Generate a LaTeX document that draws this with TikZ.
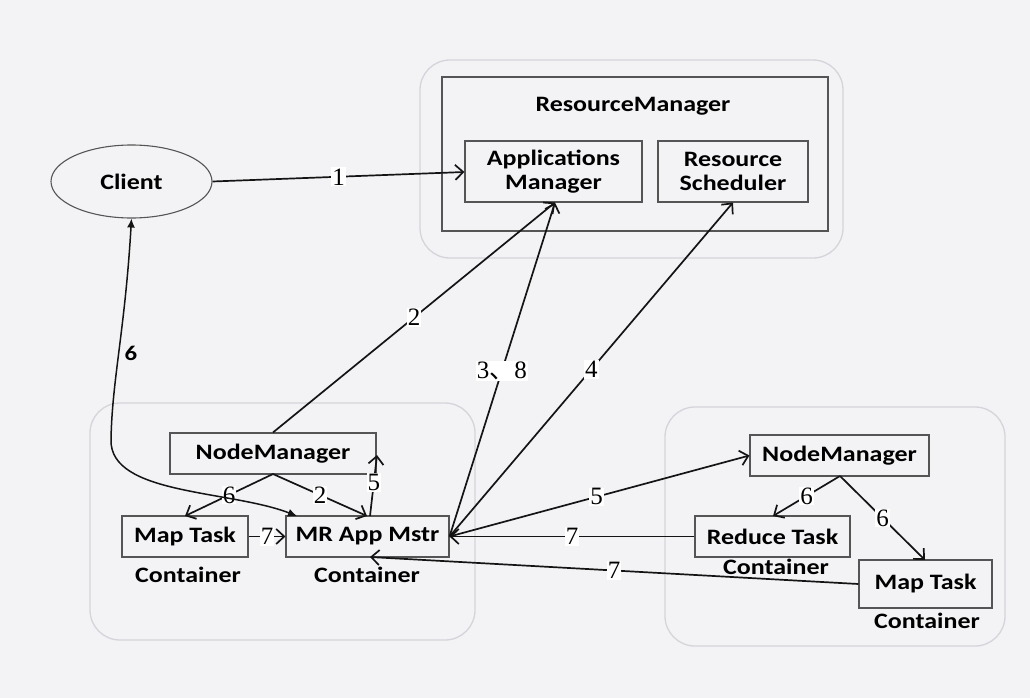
\documentclass[tikz,border=0pt]{standalone}
\usepackage{fontspec}
\usetikzlibrary{arrows.meta,shapes.geometric,calc}
\newfontfamily\bx{Carlito}[FakeStretch=1.18]
\newfontfamily\lbf{Liberation Serif}
\newfontfamily\cjk{Noto Sans CJK SC}
\definecolor{bg}{RGB}{243,243,246}
\definecolor{cont}{RGB}{212,212,218}
\definecolor{bxline}{RGB}{85,85,85}
\definecolor{ln}{RGB}{20,20,20}
\tikzset{
  box/.style={draw=bxline,line width=1.1pt,fill=bg,inner sep=0pt,font=\bx\bfseries\fontsize{22}{24}\selectfont,align=center},
  plain/.style={inner sep=0pt,font=\bx\bfseries\fontsize{22}{24}\selectfont,align=center},
  contbox/.style={draw=cont,line width=1.3pt,rounded corners=30pt},
  conn/.style={draw=ln,line width=1.7pt,-{Straight Barb[length=8pt,width=15pt,line width=1.7pt]}},
  lab/.style={fill=white,inner sep=1pt,font=\lbf\fontsize{25}{26}\selectfont},
}
\begin{document}
\begin{tikzpicture}[x=1pt,y=-1pt]
\fill[bg] (0,0) rectangle (1030,698);
\useasboundingbox (0,0) rectangle (1030,698);
% containers
\draw[contbox] (420,60) rectangle (843,258);
\draw[contbox] (90,403) rectangle (475,640);
\draw[contbox] (665,407) rectangle (1005,646);
% RM
\node[box,minimum width=386pt,minimum height=154pt] (RM) at (635,154) {};
\node[plain] (RMt) at (633,106) {ResourceManager};
\node[box,minimum width=177pt,minimum height=61pt] (AM) at (553.5,171.5) {Applications\\Manager};
\node[box,minimum width=150pt,minimum height=61pt] (RS) at (733,171.5) {Resource\\Scheduler};
% client
\node[ellipse,draw=bxline,line width=1.1pt,fill=bg,minimum width=161pt,minimum height=73pt,inner sep=0pt,font=\bx\bfseries\fontsize{22}{24}\selectfont] (CL) at (131.5,181.5) {Client};
% left node
\node[box,minimum width=206pt,minimum height=41pt] (NML) at (273,453.5) {NodeManager};
\node[box,minimum width=126pt,minimum height=41pt] (MTL) at (185,536.5) {Map Task};
\node[box,minimum width=163pt,minimum height=41pt] (MR) at (367.5,536.5) {MR App Mstr};
\node[plain] (cMTL) at (188,575) {Container};
\node[plain] (cMR) at (367,575) {Container};
% right node
\node[box,minimum width=179pt,minimum height=41pt] (NMR) at (839.5,455.5) {NodeManager};
\node[box,minimum width=155pt,minimum height=41pt] (RT) at (772.5,536.5) {Reduce Task};
\node[box,minimum width=133pt,minimum height=48pt] (MTR) at (925.5,584) {Map Task};
\node[plain] (cRT) at (776,567) {Container};
\node[plain] (cMTR) at (927,621) {Container};
% coordinates
\coordinate (AMb) at (555,202.5);
\coordinate (RSb) at (733,202.5);
\coordinate (NMLs) at (273,474);
\coordinate (NMLr) at (377,455);
\coordinate (MRn1) at (367,516);
\coordinate (MRn2) at (370,516);
\coordinate (MRs) at (370,557);
\coordinate (MRnw) at (297,516);
\coordinate (MTLn) at (185,516);
\coordinate (NMRs) at (840,476);
\coordinate (RTn) at (773,516);
\coordinate (MTRn) at (925,560);
% connectors
\draw[conn] (CL.east) -- node[lab,pos=0.5]{1} (AM.west |- 0,172);
\draw[conn] (NML.north) -- node[lab,pos=0.5]{2} (AMb);
\draw[conn] (MR.east) -- node[lab,pos=0.495]{3{\cjk 、}8} (AMb);
\draw[conn] (MR.east) -- node[lab,pos=0.5]{4} (RSb);
\draw[conn] (MR.east) -- node[lab,pos=0.49]{5} (NMR.west);
\draw[conn] (RT.west) -- node[lab,pos=0.5]{7} (MR.east);
\draw[conn] (MTR.west) -- node[lab,pos=0.5]{7} (MRs);
\draw[conn] (NMLs) -- node[lab,pos=0.5]{6} (MTLn);
\draw[conn] (NMLs) -- node[lab,pos=0.5]{2} (MRn1);
\draw[conn] (MRn2) -- node[lab,pos=0.55]{5} (NMLr);
\draw[conn] (MTL.east) -- node[lab,pos=0.5]{7} (MR.west);
\draw[conn] (NMRs) -- node[lab,pos=0.5]{6} (RTn);
\draw[conn] (NMRs) -- node[lab,pos=0.5]{6} (MTRn);
% curved 6
\draw[draw=ln,line width=1.5pt,{Latex[length=9pt,width=8pt]}-{Latex[length=9pt,width=8pt]}]
  (CL.south) .. controls (125,330) and (112,380) .. (111,440)
  .. controls (110,495) and (230,490) .. (MRnw);
\node[inner sep=0pt,font=\bx\bfseries\fontsize{21}{24}\selectfont] (l6) at (131,353) {6};
\end{tikzpicture}
\end{document}
